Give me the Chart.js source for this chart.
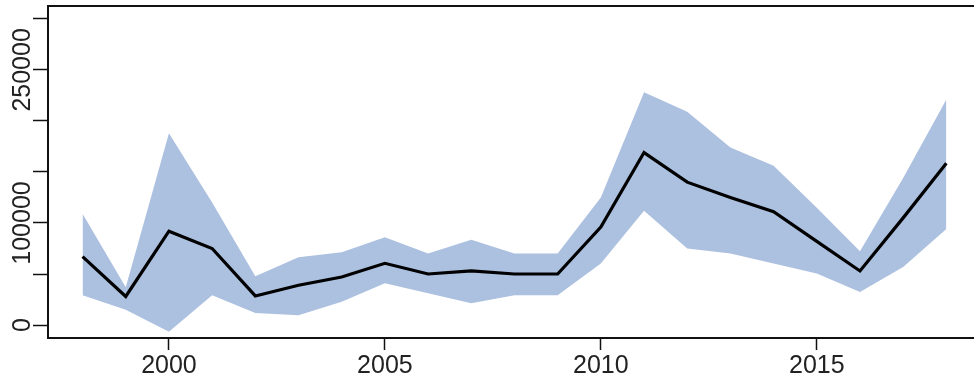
<!DOCTYPE html>
<html>
<head>
<meta charset="utf-8">
<script src="https://cdn.jsdelivr.net/npm/chart.js@4.4.1/dist/chart.umd.min.js"></script>
<style>
  html, body { margin: 0; padding: 0; background: #fff; overflow: hidden; }
  #wrap { position: relative; width: 974px; height: 381px; }
</style>
</head>
<body>
<div id="wrap"><canvas id="c" width="974" height="381"></canvas></div>
<script>
const years = [1998,1999,2000,2001,2002,2003,2004,2005,2006,2007,2008,2009,2010,2011,2012,2013,2014,2015,2016,2017,2018];
const meanValues = [67000,28000,92000,75000,28500,39000,47000,60500,50000,53000,50000,50000,96000,169000,140000,125000,111000,82000,53000,105000,158500];
const upperValues = [109000,37000,188000,120000,47700,66500,71400,86000,70000,83600,70000,70000,125000,228000,209000,174000,156000,115000,72400,144000,221000];
const lowerValues = [29200,15000,-6500,29200,11700,9700,22700,41000,31200,21400,29200,29200,60400,112000,75000,70000,60400,50600,32400,56800,94200];
const xTickValues = [2000,2005,2010,2015];
const yTickValues = [0,50000,100000,150000,200000,250000,300000];
const yLabelValues = [0,100000,250000];

const FONT = '25px "Liberation Sans", Arial, sans-serif';
const pts = arr => years.map((y,i) => ({x: y, y: arr[i]}));

const boxPlugin = {
  id: 'box',
  afterDraw(chart) {
    const {ctx, chartArea: a} = chart;
    ctx.save();
    ctx.strokeStyle = '#111';
    ctx.lineWidth = 2;
    ctx.beginPath();
    ctx.moveTo(a.right + 5, a.top);
    ctx.lineTo(a.left, a.top);
    ctx.lineTo(a.left, a.bottom);
    ctx.lineTo(a.right + 5, a.bottom);
    ctx.stroke();
    // rotated y tick labels (R style, parallel to axis)
    const ys = chart.scales.y;
    ctx.fillStyle = '#222';
    ctx.font = FONT;
    ctx.textAlign = 'center';
    ctx.textBaseline = 'middle';
    yLabelValues.forEach(v => {
      const py = ys.getPixelForValue(v);
      ctx.save();
      ctx.translate(23, py);
      ctx.rotate(-Math.PI / 2);
      ctx.fillText(String(v), 0, 0);
      ctx.restore();
    });
    ctx.restore();
  }
};

new Chart(document.getElementById('c'), {
  type: 'line',
  data: {
    datasets: [
      { data: pts(meanValues), borderColor: '#000', borderWidth: 3.2, pointRadius: 0, fill: false, tension: 0 },
      { data: pts(upperValues), borderWidth: 0, borderColor: 'rgba(0,0,0,0)', pointRadius: 0, fill: '+1', backgroundColor: 'rgb(172,192,224)', tension: 0 },
      { data: pts(lowerValues), borderWidth: 0, borderColor: 'rgba(0,0,0,0)', pointRadius: 0, fill: false, tension: 0 }
    ]
  },
  options: {
    responsive: false,
    animation: false,
    layout: { padding: { top: 6, right: 0, left: 0, bottom: 0 } },
    plugins: { legend: { display: false }, tooltip: { enabled: false } },
    scales: {
      x: {
        type: 'linear',
        min: 1997.2,
        max: 2018.64,
        afterBuildTicks: s => { s.ticks = xTickValues.map(v => ({value: v})); },
        afterFit: s => { s.height = 43; },
        grid: { drawOnChartArea: false, drawTicks: true, tickLength: 12, tickColor: '#111', tickWidth: 1.5 },
        border: { display: false },
        ticks: { color: '#222', font: { family: '"Liberation Sans", Arial, sans-serif', size: 25 }, padding: 1, maxRotation: 0, autoSkip: false, callback: v => String(v) }
      },
      y: {
        type: 'linear',
        min: -12700,
        max: 312600,
        afterBuildTicks: s => { s.ticks = yTickValues.map(v => ({value: v})); },
        afterFit: s => { s.width = 48; },
        grid: { drawOnChartArea: false, drawTicks: true, tickLength: 15, tickColor: '#111', tickWidth: 1.5 },
        border: { display: false },
        ticks: { display: false, autoSkip: false }
      }
    }
  },
  plugins: [boxPlugin]
});
</script>
</body>
</html>
